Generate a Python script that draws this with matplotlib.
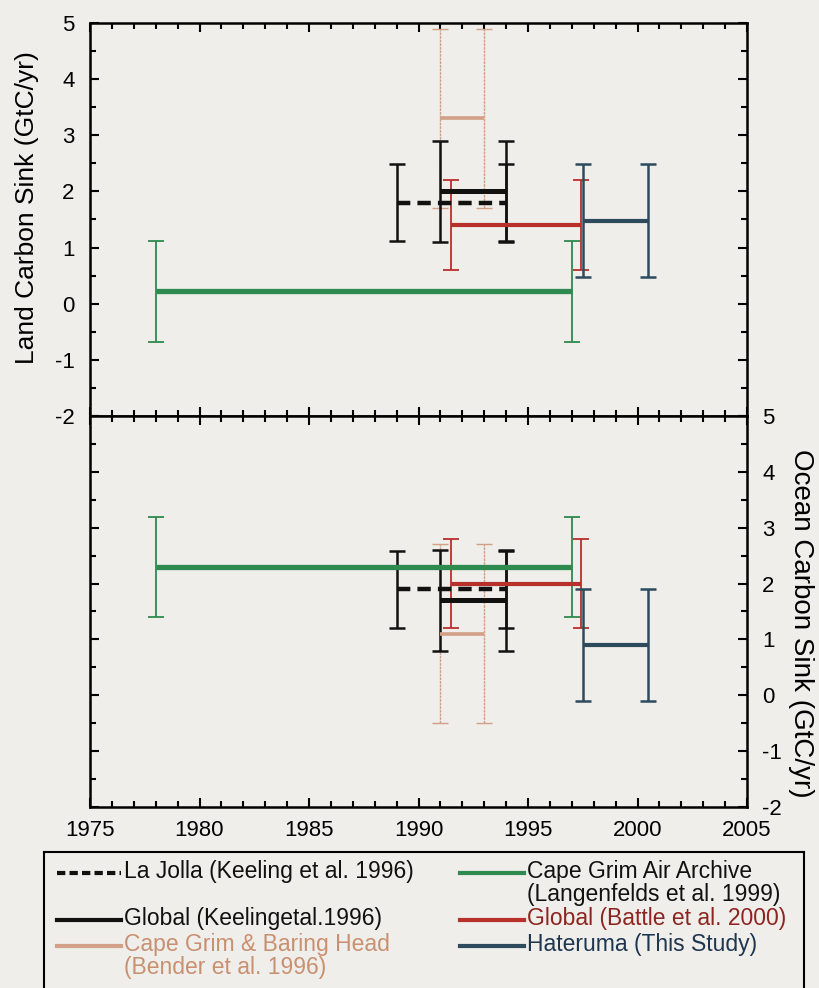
import matplotlib
matplotlib.use("Agg")
import matplotlib.pyplot as plt
from matplotlib.lines import Line2D

plt.rcParams['font.family'] = ['Liberation Sans', 'DejaVu Sans']
plt.rcParams['axes.unicode_minus'] = False

# === Dados ===
series = ["La Jolla", "Global Keeling", "Bender", "Langenfelds", "Battle", "Hateruma"]
x_inicio = [1989.0, 1991.0, 1991.0, 1978.0, 1991.5, 1997.5]
x_fim = [1994.0, 1994.0, 1993.0, 1997.0, 1997.4, 2000.5]
land_valor = [1.8, 2.0, 3.3, 0.22, 1.4, 1.48]
land_erro = [0.68, 0.9, 1.6, 0.9, 0.8, 1.0]
ocean_valor = [1.9, 1.7, 1.1, 2.3, 2.0, 0.9]
ocean_erro = [0.69, 0.9, 1.6, 0.9, 0.8, 1.0]

legend_labels = ["La Jolla (Keeling et al. 1996)",
                 "Global (Keelingetal.1996)",
                 "Cape Grim & Baring Head\n(Bender et al. 1996)",
                 "Cape Grim Air Archive\n(Langenfelds et al. 1999)",
                 "Global (Battle et al. 2000)",
                 "Hateruma (This Study)"]

# === Estilos ===
cores = ["#111111", "#111111", "#d2a086", "#2f8a4f", "#b8302c", "#2e4b5e"]
cores_texto = ["#111111", "#111111", "#c99070", "#111111", "#8e2420", "#1e3550"]
estilo_linha = [(0, (3, 1.6)), "-", "-", "-", "-", "-"]
lw_linha = [3.2, 3.6, 2.6, 3.8, 3.0, 3.0]
lw_erro = [1.8, 1.8, 1.0, 1.3, 1.3, 1.8]
ordem = [2, 0, 1, 4, 5, 3]

bg = "#efeeea"
fig = plt.figure(figsize=(8.19, 9.88), dpi=100, facecolor=bg)
ax1 = fig.add_axes([90 / 819, 1 - 416 / 988, 657 / 819, 393 / 988], facecolor=bg)
ax2 = fig.add_axes([90 / 819, 1 - 807 / 988, 657 / 819, 391 / 988], facecolor=bg)


def desenha(ax, valores, erros):
    for i in ordem:
        ax.plot([x_inicio[i], x_fim[i]], [valores[i], valores[i]], color=cores[i],
                lw=lw_linha[i], linestyle=estilo_linha[i], solid_capstyle="butt", zorder=3)
        eb = ax.errorbar([x_inicio[i], x_fim[i]], [valores[i], valores[i]], yerr=erros[i],
                         fmt="none", ecolor=cores[i], elinewidth=lw_erro[i],
                         capsize=5.5, capthick=lw_erro[i], zorder=2)
        if i == 2:
            eb[2][0].set_linestyle((0, (2, 0.6)))


for ax in (ax1, ax2):
    ax.set_xlim(1975, 2005)
    ax.set_ylim(-2, 5)
    ax.set_xticks(range(1975, 2006, 5))
    ax.set_xticks(range(1975, 2006, 1), minor=True)
    ax.set_yticks(range(-2, 6))
    ax.set_yticks([v / 2 for v in range(-4, 11)], minor=True)
    ax.tick_params(which="both", direction="in", top=True, bottom=True, left=True, right=True,
                   width=1.5, labelsize=16, pad=11)
    ax.tick_params(which="major", length=6.5)
    ax.tick_params(which="minor", length=4.3)
    for s in ax.spines.values():
        s.set_linewidth(1.8)

desenha(ax1, land_valor, land_erro)
desenha(ax2, ocean_valor, ocean_erro)

ax1.tick_params(labelbottom=False, labelleft=True, labelright=False)
ax2.tick_params(labelbottom=True, labelleft=False, labelright=True, pad=11)
ax2.tick_params(axis="x", pad=9)

ax1.set_ylabel("Land Carbon Sink (GtC/yr)", fontsize=19)
ax1.yaxis.set_label_coords(-0.078, 0.53)
ax2.yaxis.set_label_position("right")
ax2.set_ylabel("Ocean Carbon Sink (GtC/yr)", fontsize=20, rotation=270, va="bottom")
ax2.yaxis.set_label_coords(1.062, 0.47)

# === Legenda (caixa manual) ===
axl = fig.add_axes([44 / 819, -0.02, 760 / 819, (988 - 852) / 988 + 0.02], facecolor=bg)
axl.set_xlim(44, 804)
axl.set_ylim(988 + 0.02 * 988, 852)
axl.set_xticks([])
axl.set_yticks([])
for s in axl.spines.values():
    s.set_linewidth(1.5)

pos_legenda = [(57, 873), (57, 920), (57, 946), (460, 873), (460, 920), (460, 946)]
for i, (px, py) in enumerate(pos_legenda):
    axl.add_line(Line2D([px, px + 64], [py, py], color=cores[i], lw=3.0,
                        linestyle=estilo_linha[i] if i == 0 else "-",
                        dashes=(2.0, 1.0) if i == 0 else (None, None)))
    axl.text(px + 67, py - 13, legend_labels[i], color=cores_texto[i], fontsize=16.5,
             va="top", ha="left", linespacing=0.98)

fig.savefig("out.png", dpi=100, facecolor=bg)
